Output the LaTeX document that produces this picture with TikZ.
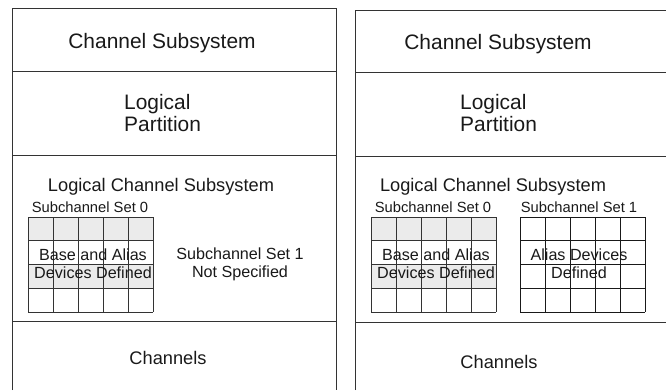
\documentclass[tikz,border=0pt]{standalone}
\usepackage{fontspec}
\setmainfont{Liberation Sans}
\usepackage{xcolor}
\usepackage{tikz}
\usetikzlibrary{positioning}

\definecolor{cellgray}{HTML}{EBEBEB}
\definecolor{linegray}{HTML}{333333}

\begin{document}
\begin{tikzpicture}[x=1bp, y=-1bp,
        frame/.style={line width=0.8bp, draw=linegray},
        cell/.style={line width=0.7bp, draw=linegray},
        cellbold/.style={line width=1bp, draw=black!90},
        txt/.style={inner sep=0pt, align=center, text=black!90},
        bigtxt/.style={txt, font=\fontsize{21}{21.5}\selectfont},
        midtxt/.style={txt, font=\fontsize{18.3}{20}\selectfont},
        smalltxt/.style={txt, font=\fontsize{16.2}{18}\selectfont},
        tinytxt/.style={txt, font=\fontsize{14.8}{17}\selectfont},
    ]
    \useasboundingbox (0,0) rectangle (666,390);

    % left stack
    \draw[frame] (12,390) -- (12,8) -- (336,8) -- (336,390);
    \draw[frame] (12,71) -- (336,71);
    \draw[frame] (12,155) -- (336,155);
    \draw[frame] (12,321) -- (336,321);

    % right stack
    \draw[frame] (355,390) -- (355,10) -- (666,10);
    \draw[frame] (355,72) -- (666,72);
    \draw[frame] (355,156) -- (666,156);
    \draw[frame] (355,322) -- (666,322);

    % subchannel set grids
    \foreach \gx in {28, 371} {
        \fill[cellgray] (\gx,217) rectangle ++(125,23.75);
        \fill[cellgray] (\gx,264.5) rectangle ++(125,23.75);
        \foreach \i in {0,...,5} \draw[cell] (\gx+25*\i,217) -- (\gx+25*\i,312);
        \foreach \j in {0,...,4} \draw[cell] (\gx,217+23.75*\j) -- (\gx+125,217+23.75*\j);
    }
    \foreach \i in {0,...,5} \draw[cellbold] (520+25*\i,217) -- (520+25*\i,312);
    \foreach \j in {0,...,4} \draw[cellbold] (520,217+23.75*\j) -- (645,217+23.75*\j);

    % left texts
    \node[bigtxt] (cs-l) at (162,43) {Channel Subsystem};
    \node[bigtxt, anchor=west, align=left] (lp-l) at (124,113) {Logical\\Partition};
    \node[midtxt] (lcs-l) at (161,187) {Logical Channel Subsystem};
    \node[tinytxt] (ss0-l) at (90,207) {Subchannel Set 0};
    \node[smalltxt] (dev-l) at (93,264) {Base and Alias\\Devices Defined};
    \node[smalltxt] (ss1-l) at (240,264) {Subchannel Set 1\\Not Specified};
    \node[midtxt] (ch-l) at (168,358) {Channels};

    % right texts
    \node[bigtxt] (cs-r) at (498,44) {Channel Subsystem};
    \node[bigtxt, anchor=west, align=left] (lp-r) at (460,113) {Logical\\Partition};
    \node[midtxt] (lcs-r) at (493,187) {Logical Channel Subsystem};
    \node[tinytxt] (ss0-r) at (433,207) {Subchannel Set 0};
    \node[tinytxt] (ss1-r) at (579,207) {Subchannel Set 1};
    \node[smalltxt] (dev-r) at (436,264) {Base and Alias\\Devices Defined};
    \node[smalltxt] (alias-r) at (579,264) {Alias Devices\\Defined};
    \node[midtxt] (ch-r) at (499,362) {Channels};
\end{tikzpicture}
\end{document}
